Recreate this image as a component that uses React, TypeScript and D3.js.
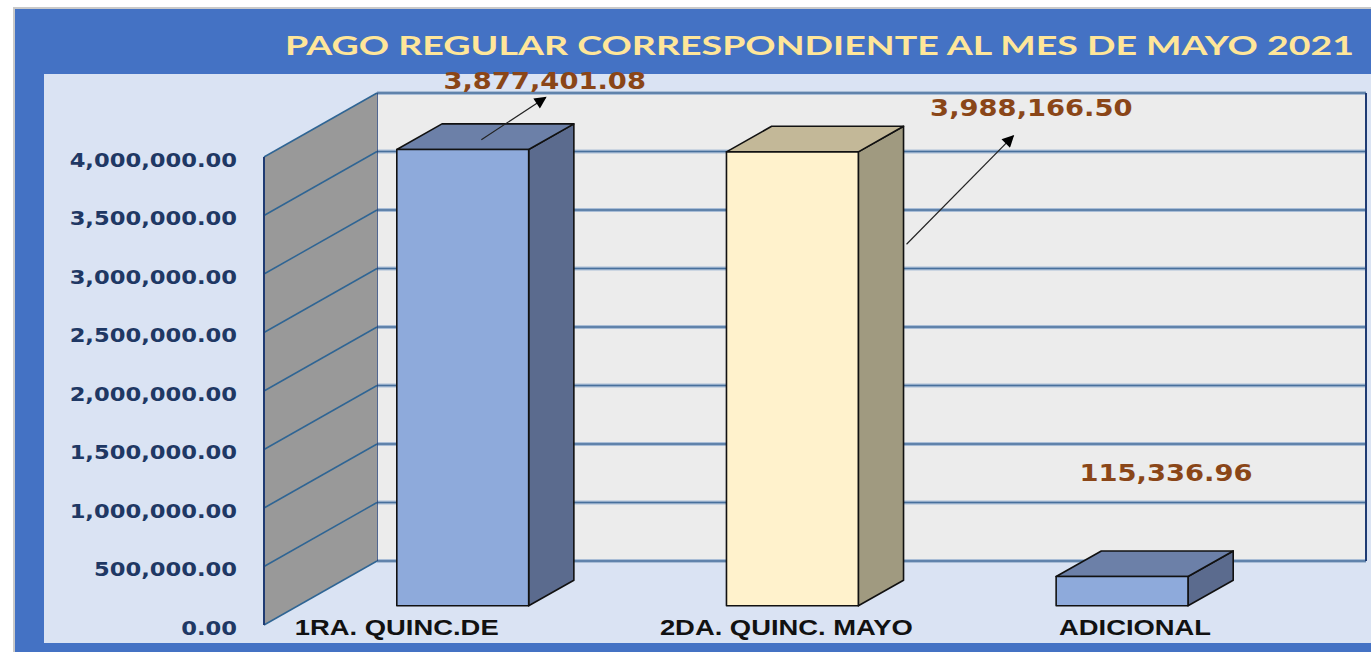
import React from "react";
import * as d3 from "d3";

// ---------- data ----------
const title = "PAGO REGULAR CORRESPONDIENTE AL MES DE MAYO 2021";
const categories = ["1RA. QUINC.DE", "2DA. QUINC. MAYO", "ADICIONAL"];
// bar heights as drawn in the picture
const barValues = [3900000, 3880000, 250000];
// annotation texts shown above bars
const valueLabels = ["3,877,401.08", "3,988,166.50", "115,336.96"];
const yTicks = [0, 500000, 1000000, 1500000, 2000000, 2500000, 3000000, 3500000, 4000000];

// ---------- layout / style ----------
const W = 1371;
const H = 652;
const FRONT_LEFT = 264;
const FRONT_RIGHT = 1253;
const FRONT_BOTTOM = 625;
const FRONT_TOP = 157;
const DX = 113; // depth vector
const DY = -64;
const D0 = 0.3;
const D1 = 0.7;
const CAT_LABEL_SHIFT = [-66, -6, 13];

const barColors = [
  { front: "#8eaadb", top: "#6c80a8", side: "#5b6b8e" },
  { front: "#fff2cc", top: "#c3b898", side: "#a09a80" },
  { front: "#8eaadb", top: "#6c80a8", side: "#5b6b8e" },
];

const x = d3.scaleBand<string>().domain(categories).range([FRONT_LEFT, FRONT_RIGHT]).paddingInner(0.6).paddingOuter(0.3);
const y = d3.scaleLinear().domain([0, 4000000]).range([FRONT_BOTTOM, FRONT_TOP]);
const fmt = d3.format(",.2f");

const P = (px: number, py: number, d: number): [number, number] => [px + d * DX, py + d * DY];
const poly = (pts: [number, number][]) => pts.map((p) => p.join(",")).join(" ");

export default function App() {
  const bw = x.bandwidth();
  const y0 = y(0);
  const yMax = y(4000000);

  const bars = categories.map((c, i) => {
    const x0 = x(c)!;
    const x1 = x0 + bw;
    const yv = y(barValues[i]);
    return {
      c,
      i,
      x0,
      x1,
      yv,
      front: [P(x0, y0, D0), P(x1, y0, D0), P(x1, yv, D0), P(x0, yv, D0)] as [number, number][],
      top: [P(x0, yv, D0), P(x1, yv, D0), P(x1, yv, D1), P(x0, yv, D1)] as [number, number][],
      side: [P(x1, y0, D0), P(x1, yv, D0), P(x1, yv, D1), P(x1, y0, D1)] as [number, number][],
    };
  });

  // annotation placement (relative to bar geometry)
  const b1 = bars[0];
  const b2 = bars[1];
  const b3 = bars[2];
  const l1 = [P(b1.x1, b1.yv, D0)[0] + 16, P(b1.x1, b1.yv, D0)[1] - 69];
  const l2 = [P(b2.x1, b2.yv, D0)[0] + 173, P(b2.x1, b2.yv, D0)[1] - 44];
  const l3 = [P(b3.x1, b3.yv, D0)[0] - 22, P(b3.x1, b3.yv, D0)[1] - 104];
  const labelPos = [l1, l2, l3];
  const topCenter1 = P((b1.x0 + b1.x1) / 2, b1.yv, 0.5);
  const sideTop2 = P(b2.x1, b2.yv, D1);
  const arrows = [
    { from: [topCenter1[0] - 4, topCenter1[1] + 3], to: [l1[0] + 1, l1[1] + 17] },
    { from: [sideTop2[0] + 3, sideTop2[1] + 118], to: [l2[0] - 18, l2[1] + 28] },
  ];

  const backLeft = FRONT_LEFT + DX;
  const backRight = FRONT_RIGHT + DX;

  return (
    <svg
      width={W}
      height={H}
      viewBox={`0 0 ${W} ${H}`}
      style={{ position: "absolute", left: 0, top: 0, display: "block", background: "#ffffff" }}
    >
      <defs>
        <marker id="ah" viewBox="0 0 10 10" refX="9" refY="5" markerWidth="14" markerHeight="12" markerUnits="userSpaceOnUse" orient="auto">
          <path d="M0,0 L10,5 L0,10 z" fill="#000" />
        </marker>
      </defs>
      {/* outer frame */}
      <rect x={13} y={7} width={W - 13} height={H - 7} fill="#c9c9c9" />
      <rect x={15} y={9} width={W - 15} height={H - 9} fill="#4472c4" />
      <rect x={44} y={74} width={W - 44} height={643 - 74} fill="#dae3f3" />

      {/* title */}
      <text
        x={285}
        y={55}
        textLength={1069}
        lengthAdjust="spacingAndGlyphs"
        fill="#ffe699"
        fontFamily="Lato, 'Open Sans', sans-serif"
        fontWeight={700}
        fontSize={27}
      >
        {title}
      </text>

      {/* back wall */}
      <rect x={backLeft} y={yMax + DY} width={backRight - backLeft} height={y0 - yMax} fill="#ececec" />
      {yTicks.map((t) => (
        <g key={"bg" + t}>
          <line x1={backLeft} x2={backRight} y1={y(t) + DY} y2={y(t) + DY} stroke="#a9bdd6" strokeWidth={4} />
          <line x1={backLeft} x2={backRight} y1={y(t) + DY} y2={y(t) + DY} stroke="#48709c" strokeWidth={1.7} />
        </g>
      ))}
      <line x1={backRight} x2={backRight} y1={yMax + DY} y2={y0 + DY} stroke="#1f3b73" strokeWidth={2} />
      <line x1={backLeft} x2={backLeft} y1={yMax + DY} y2={y0 + DY} stroke="#1f3b73" strokeWidth={1.5} />

      {/* side wall */}
      <polygon
        points={poly([P(FRONT_LEFT, y0, 0), P(FRONT_LEFT, yMax, 0), P(FRONT_LEFT, yMax, 1), P(FRONT_LEFT, y0, 1)])}
        fill="#999999"
      />
      {yTicks.map((t) => {
        const a = P(FRONT_LEFT, y(t), 0);
        const b = P(FRONT_LEFT, y(t), 1);
        return <line key={"sg" + t} x1={a[0]} y1={a[1]} x2={b[0]} y2={b[1]} stroke="#2f6594" strokeWidth={1.5} />;
      })}
      <line x1={FRONT_LEFT} x2={FRONT_LEFT} y1={yMax} y2={y0} stroke="#1f3b73" strokeWidth={2} />

      {/* bars */}
      {bars.map((b) => (
        <g key={b.c} stroke="#111" strokeWidth={1.6} strokeLinejoin="round">
          <polygon points={poly(b.side)} fill={barColors[b.i].side} />
          <polygon points={poly(b.top)} fill={barColors[b.i].top} />
          <polygon points={poly(b.front)} fill={barColors[b.i].front} />
        </g>
      ))}

      {/* y axis labels */}
      {yTicks.map((t) => (
        <text
          key={"yl" + t}
          transform={`translate(237,${y(t) + 9.5}) scale(1.16,1)`}
          textAnchor="end"
          fill="#1f3864"
          fontFamily="'DejaVu Sans', Verdana, sans-serif"
          fontWeight={700}
          fontSize={19.5}
        >
          {fmt(t)}
        </text>
      ))}

      {/* category labels */}
      {bars.map((b) => {
        const cx = P((b.x0 + b.x1) / 2, y0, D0)[0] + CAT_LABEL_SHIFT[b.i];
        return (
          <text
            key={"cl" + b.c}
            transform={`translate(${cx},635) scale(1.245,1)`}
            textAnchor="middle"
            fill="#111"
            fontFamily="'Liberation Sans', Arial, sans-serif"
            fontWeight={700}
            fontSize={22}
          >
            {b.c}
          </text>
        );
      })}

      {/* arrows */}
      {arrows.map((a, i) => (
        <line
          key={"ar" + i}
          x1={a.from[0]}
          y1={a.from[1]}
          x2={a.to[0]}
          y2={a.to[1]}
          stroke="#222"
          strokeWidth={1.2}
          markerEnd="url(#ah)"
        />
      ))}

      {/* value labels */}
      {valueLabels.map((s, i) => (
        <text
          key={"vl" + i}
          transform={`translate(${labelPos[i][0]},${labelPos[i][1] + 8}) scale(1.19,1)`}
          textAnchor="middle"
          fill="#8a4618"
          fontFamily="'DejaVu Sans', Verdana, sans-serif"
          fontWeight={700}
          fontSize={23}
        >
          {s}
        </text>
      ))}
    </svg>
  );
}
